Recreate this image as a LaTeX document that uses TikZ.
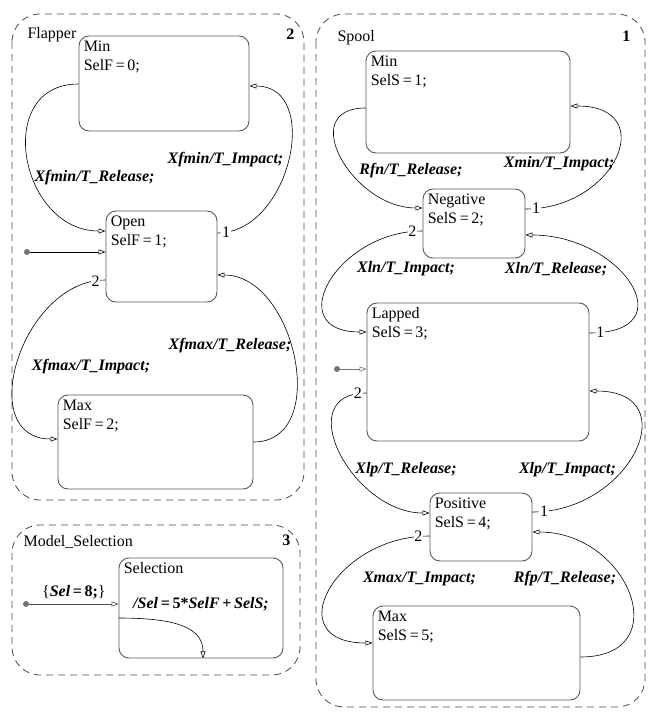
\documentclass[tikz,border=0pt]{standalone}
\usepackage{fontspec}
\setmainfont{Liberation Serif}
\usetikzlibrary{arrows.meta}

\begin{document}
\begin{tikzpicture}[x=1pt,y=-1pt,>={Triangle[open,length=7pt,width=5pt]},
  font=\fontsize{16}{19}\selectfont,
  chart/.style={draw=black!70,dash pattern=on 7pt off 5pt,line width=0.8pt,rounded corners=28pt},
  stbox/.style={draw=black!65,line width=0.9pt,rounded corners=10pt,inner sep=0pt},
  stlbl/.style={anchor=north west,align=left,inner sep=5pt},
  trans/.style={->,line width=0.6pt},
  tlbl/.style={font=\fontsize{16}{19}\selectfont\bfseries\itshape},
  num/.style={pos=0.04,fill=white,inner sep=0.8pt},
  dot/.style={circle,fill=black!55,inner sep=0pt,minimum size=6pt}]
\useasboundingbox (0,0) rectangle (657,714);

% charts
\draw[chart] (12,14) rectangle (304,500);
\draw[chart] (12,525) rectangle (300,675);
\draw[chart] (316,14) rectangle (645,707);
\node[anchor=west] (tflap) at (24,35) {Flapper};
\node[anchor=east] (nflap) at (298,34) {\textbf{2}};
\node[anchor=west] (tsel) at (20,542) {Model\_Selection};
\node[anchor=east] (nsel) at (294,540) {\textbf{3}};
\node[anchor=west] (tspool) at (334,38) {Spool};
\node[anchor=east] (nspool) at (634,36) {\textbf{1}};

% Flapper
\node[stbox,minimum width=170,minimum height=95,label={[stlbl]north west:Min\\SelF\,=\,0;}] (fmin) at (164,83.5) {};
\node[stbox,minimum width=111,minimum height=91,label={[stlbl]north west:Open\\SelF\,=\,1;}] (fopen) at (161.5,256.5) {};
\node[stbox,minimum width=195,minimum height=94,label={[stlbl]north west:Max\\SelF\,=\,2;}] (fmax) at (155.5,442) {};
\node[dot] (finit) at (27,252) {};
\draw[trans] (finit) -- (fopen.west |- finit);
\path (fmin.west |- 0,84) edge[trans,out=180,in=180,distance=86pt] (fopen.west |- 0,231);
\path (fopen.east |- 0,233) edge[trans,out=0,in=0,distance=73pt] node[num] {1} (fmin.east |- 0,86);
\path (fopen.west |- 0,280) edge[trans,out=180,in=180,distance=84pt] node[num] {2} (fmax.west |- 0,439);
\path (fmax.east |- 0,442) edge[trans,out=0,in=0,distance=78pt] (fopen.east |- 0,275);
\node[tlbl] (lf1) at (94.5,178) {Xfmin/T\_Release;};
\node[tlbl] (lf2) at (225.5,160) {Xfmin/T\_Impact;};
\node[tlbl] (lf3) at (91,367) {Xfmax/T\_Impact;};
\node[tlbl] (lf4) at (230,346) {Xfmax/T\_Release;};

% Model_Selection
\node[stbox,minimum width=164,minimum height=100,label={[stlbl]north west:Selection}] (sel) at (201,608) {};
\node[dot] (selinit) at (26,604) {};
\draw[trans,draw=black!70] (selinit) -- node[above=1pt] {\{\textbf{\textit{Sel}}\,\textbf{=\,8;}\}} (sel.west |- selinit);
\draw[trans] (sel.west |- 0,618) .. controls +(60,0) and +(0,-30) .. (sel.south -| 203,0);
\node[tlbl] (lsel) at (201,604) {/Sel\,\upshape=\,5*\itshape SelF\,\upshape+\,\itshape SelS;};

% Spool
\node[stbox,minimum width=204,minimum height=102,label={[stlbl]north west:Min\\SelS\,=\,1;}] (smin) at (468,102) {};
\node[stbox,minimum width=102,minimum height=69,label={[stlbl]north west:Negative\\SelS\,=\,2;}] (sneg) at (474,223.5) {};
\node[stbox,minimum width=222,minimum height=138,label={[stlbl]north west:Lapped\\SelS\,=\,3;}] (slap) at (478,372) {};
\node[stbox,minimum width=102,minimum height=68,label={[stlbl]north west:Positive\\SelS\,=\,4;}] (spos) at (481,527) {};
\node[stbox,minimum width=207,minimum height=94,label={[stlbl]north west:Max\\SelS\,=\,5;}] (smax) at (476.5,653) {};
\node[dot] (sinit) at (337,369) {};
\draw[trans,draw=black!55] (sinit) -- (slap.west |- sinit);
\path (smin.west |- 0,108) edge[trans,out=180,in=180,distance=70pt] (sneg.west |- 0,208);
\path (sneg.east |- 0,209) edge[trans,out=0,in=0,distance=90pt] node[num] {1} (smin.east |- 0,106);
\path (sneg.west |- 0,231) edge[trans,out=180,in=180,distance=86pt] node[num] {2} (slap.west |- 0,332);
\path (slap.east |- 0,333) edge[trans,out=0,in=0,distance=97pt] node[num] {1} (sneg.east |- 0,235);
\path (slap.west |- 0,393) edge[trans,out=180,in=180,distance=77pt] node[num] {2} (spos.west |- 0,513);
\path (spos.east |- 0,512) edge[trans,out=0,in=0,distance=98pt] node[num] {1} (slap.east |- 0,391);
\path (spos.west |- 0,536) edge[trans,out=180,in=180,distance=95pt] node[num] {2} (smax.west |- 0,643);
\path (smax.east |- 0,657) edge[trans,out=0,in=0,distance=97pt] (spos.east |- 0,532);
\node[tlbl] (ls1) at (411,171) {Rfn/T\_Release;};
\node[tlbl] (ls2) at (559,164) {Xmin/T\_Impact;};
\node[tlbl] (ls3) at (406,269) {Xln/T\_Impact;};
\node[tlbl] (ls4) at (556,269) {Xln/T\_Release;};
\node[tlbl] (ls5) at (406,470) {Xlp/T\_Release;};
\node[tlbl] (ls6) at (567.5,470) {Xlp/T\_Impact;};
\node[tlbl] (ls7) at (419.5,579) {Xmax/T\_Impact;};
\node[tlbl] (ls8) at (565,579) {Rfp/T\_Release;};
\end{tikzpicture}
\end{document}
